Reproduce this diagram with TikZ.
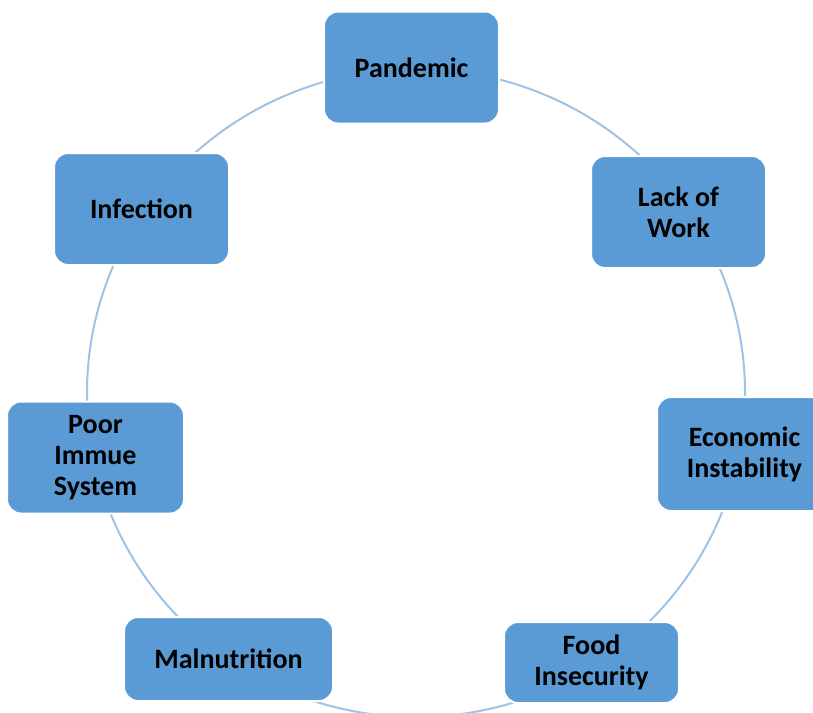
\documentclass[tikz,border=0pt]{standalone}
\usepackage{fontspec}
\setmainfont{Carlito}
\usepackage{tikz}
\definecolor{boxblue}{HTML}{5B9BD5}
\definecolor{ringblue}{HTML}{9DC3E6}

\begin{document}
\begin{tikzpicture}[x=0.5pt,y=-0.5pt]
    \tikzset{box/.style={rectangle, rounded corners=7pt, fill=boxblue, draw=white, line width=1pt, minimum width=87.5pt, minimum height=56pt, align=center, inner sep=2pt, font=\fontsize{14}{15.5}\selectfont\bfseries}};
%%
\clip (0,0) rectangle (813,712);
\coordinate (0) at (416,393);
  \draw [ringblue, line width=1pt] (0) ellipse[x radius=164.5pt, y radius=162pt];

\node (1) at (411.5,67.5) [box] {Pandemic};
  \node (2) at (678.5,212) [box] {Lack of\\Work};
  \node (3) at (744.5,454) [box, minimum height=57pt] {Economic\\Instability};
  \node (4) at (591.5,662.5) [box, minimum height=40.5pt] {Food\\Insecurity};
  \node (5) at (228.5,659) [box, minimum width=104.5pt, minimum height=42pt] {Malnutrition};
  \node (6) at (95.5,457.5) [box, minimum width=88.5pt] {Poor\\Immue\\System};
  \node (7) at (141.5,209) [box] {Infection};
\end{tikzpicture}
\end{document}
